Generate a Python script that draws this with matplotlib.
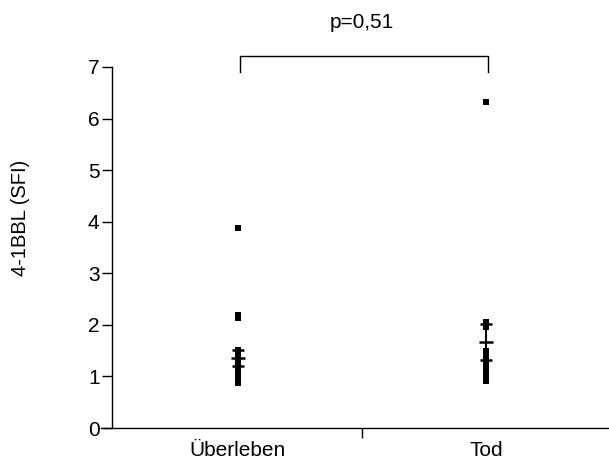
import matplotlib
matplotlib.use("Agg")
import matplotlib.pyplot as plt
import numpy as np

plt.rcParams['font.family'] = ['Liberation Sans', 'DejaVu Sans']

categories = ["Überleben", "Tod"]
ueberleben = [3.88, 2.2, 2.13, 1.52, 1.45, 1.4, 1.35, 1.3, 1.2, 1.15, 1.1, 1.05,
              1.0, 1.0, 0.95, 0.95, 0.92, 0.9, 0.9, 0.88]
tod = [6.32, 2.05, 2.0, 1.95, 1.5, 1.4, 1.3, 1.25, 1.2, 1.1, 1.05, 1.0, 0.98,
       0.95, 0.92]
groups = [ueberleben, tod]
y_ticks = [0, 1, 2, 3, 4, 5, 6, 7]
p_text = "p=0,51"

fig = plt.figure(figsize=(6.09, 4.66), dpi=100)
ax = fig.add_axes([101/609, 1-428/466, 507/609, (428-67)/466])
ax.set_xlim(-0.552, 1.492)
ax.set_ylim(0, 7)

fs = 15
for i, vals in enumerate(groups):
    v = np.array(vals)
    ax.plot(np.full(len(v), i), v, 's', color='black', markersize=4.3, markeredgewidth=0)
    m = v.mean()
    sem = v.std(ddof=1) / np.sqrt(len(v))
    ax.errorbar([i], [m], yerr=[sem], fmt='_', color='black', markersize=10,
                markeredgewidth=1.8, capsize=4.5, capthick=1.8, elinewidth=1.5)

for s in ['top', 'right']:
    ax.spines[s].set_visible(False)
ax.spines['left'].set_position(('axes', 11/507))
ax.spines['left'].set_bounds(0, 7)
ax.spines['left'].set_linewidth(1.0)
ax.spines['bottom'].set_linewidth(1.0)

ax.set_yticks(y_ticks)
ax.set_yticklabels([str(t) for t in y_ticks], fontsize=fs)
ax.tick_params(axis='y', direction='out', length=7, width=1.0, pad=2)

ax.set_xticks([0.5])
ax.set_xticklabels([''])
ax.tick_params(axis='x', which='major', direction='out', length=7, width=1.0)
ax.set_xticks([0, 1], minor=True)
ax.set_xticklabels(categories, minor=True, fontsize=fs)
ax.tick_params(axis='x', which='minor', length=0, pad=9)

# significance bracket
ax.plot([0.01, 0.01, 1.01, 1.01], [6.9, 7.21, 7.21, 6.9], color='black',
        linewidth=1.0, clip_on=False)
ax.text(0.5, 7.87, p_text, ha='center', va='center', fontsize=fs)

fig.text(21/609, 1-218/466, "4-1BBL (SFI)", rotation=90, ha='center', va='center',
         fontsize=14.5)

fig.savefig("out.png", dpi=100)
